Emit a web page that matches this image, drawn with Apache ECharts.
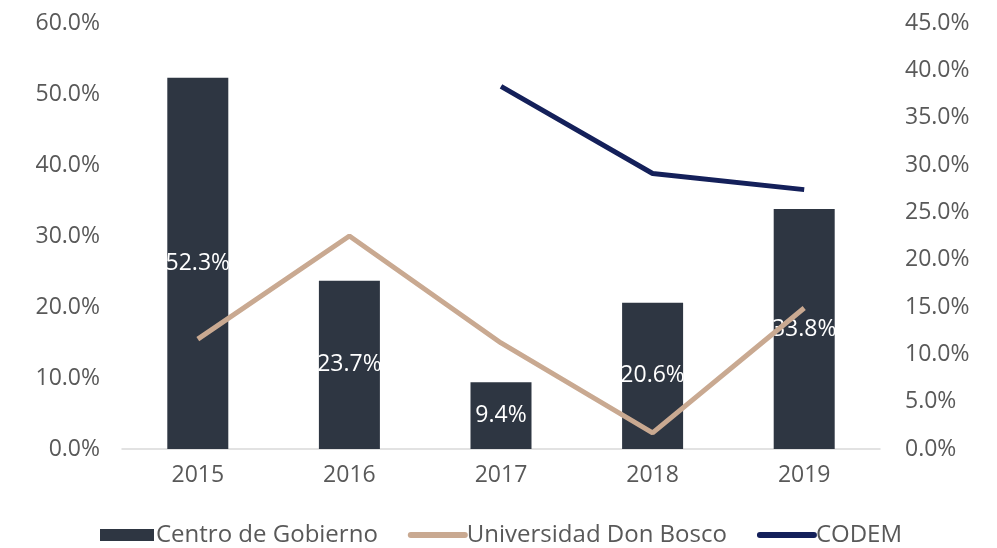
<!DOCTYPE html>
<html>
<head>
<meta charset="utf-8">
<script src="https://cdn.jsdelivr.net/npm/echarts@6/dist/echarts.min.js"></script>
<style>
  html, body { margin: 0; padding: 0; background: #fff; }
  #chart { width: 997px; height: 548px; }
</style>
</head>
<body>
<div id="chart"></div>
<script>
// values, in percent
const years = ['2015', '2016', '2017', '2018', '2019'];
const centroGobierno = [52.3, 23.7, 9.4, 20.6, 33.8];
const donBosco = [11.6, 22.5, 11.2, 1.7, 14.9];
const codem = [null, null, 38.3, 29.1, 27.4];

const FONT = '"Open Sans", sans-serif';
const AXIS = '#595959';
const TAN = '#c9a991';
const NAVY = '#14205a';
const pct = (v) => v.toFixed(1) + '%';

const chart = echarts.init(document.getElementById('chart'), null, { renderer: 'canvas' });

// line legend icons: hide the default circle, keep a thick rounded stroke
const lineLegend = (name) => ({
  name, itemStyle: { opacity: 0 }, lineStyle: { width: 6, cap: 'round' },
});

chart.setOption({
  animation: false,
  textStyle: { fontFamily: FONT },
  grid: { left: 122, right: 117, top: 23, bottom: 99 },
  legend: {
    top: 523, left: 100, padding: 0, itemGap: 30, itemWidth: 54, itemHeight: 12,
    textStyle: { color: AXIS, fontFamily: FONT, fontSize: 24, padding: [0, 0, 0, -3] },
    data: [
      { name: 'Centro de Gobierno', icon: 'rect' },
      lineLegend('Universidad Don Bosco'),
      lineLegend('CODEM'),
    ],
  },
  xAxis: {
    type: 'category', data: years,
    axisLine: { lineStyle: { color: '#d9d9d9', width: 1.5 } },
    axisTick: { show: false },
    axisLabel: { color: AXIS, fontFamily: FONT, fontSize: 23, margin: 15 },
  },
  yAxis: [
    {
      type: 'value', min: 0, max: 60, interval: 10,
      splitLine: { show: false }, axisLine: { show: false }, axisTick: { show: false },
      axisLabel: { color: AXIS, fontFamily: FONT, fontSize: 23, margin: 22, formatter: pct },
    },
    {
      type: 'value', min: 0, max: 45, interval: 5,
      splitLine: { show: false }, axisLine: { show: false }, axisTick: { show: false },
      axisLabel: { color: AXIS, fontFamily: FONT, fontSize: 23, margin: 25, formatter: pct },
    },
  ],
  series: [
    {
      name: 'Centro de Gobierno', type: 'bar', data: centroGobierno, barWidth: 61,
      itemStyle: { color: '#2e3642' },
      label: { show: true, position: 'inside', color: '#fff', fontFamily: FONT, fontSize: 23,
        formatter: (p) => pct(p.value) },
    },
    {
      name: 'Universidad Don Bosco', type: 'line', yAxisIndex: 1, data: donBosco,
      symbol: 'none', lineStyle: { color: TAN, width: 5 }, itemStyle: { color: TAN },
    },
    {
      name: 'CODEM', type: 'line', yAxisIndex: 1, data: codem,
      symbol: 'none', lineStyle: { color: NAVY, width: 5 }, itemStyle: { color: NAVY },
    },
  ],
});
</script>
</body>
</html>
